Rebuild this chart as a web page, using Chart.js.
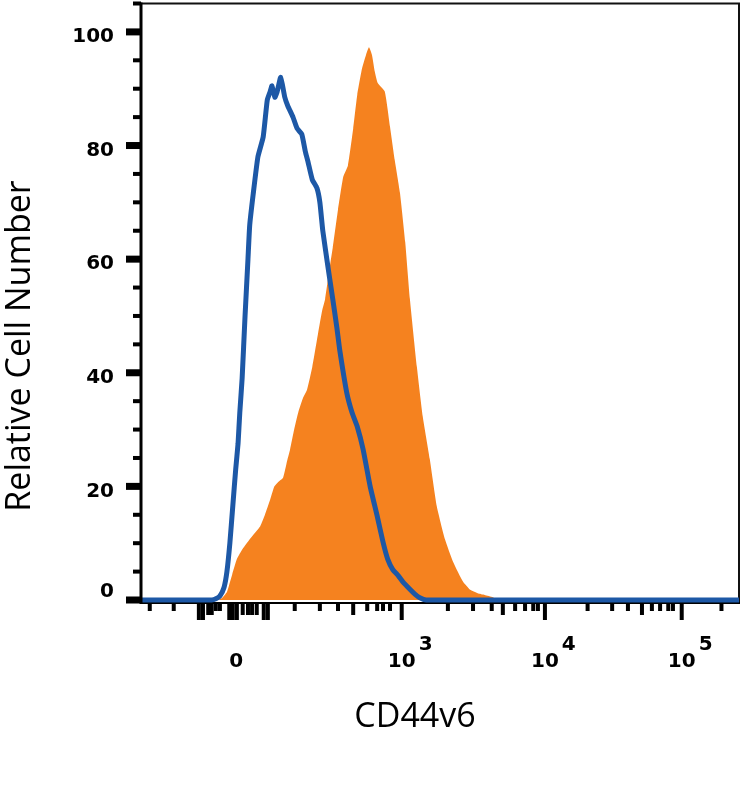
<!DOCTYPE html>
<html>
<head>
<meta charset="utf-8">
<script src="https://cdn.jsdelivr.net/npm/chart.js@4"></script>
<style>
html,body{margin:0;padding:0;background:#fff;}
canvas{display:block;}
</style>
</head>
<body>
<canvas id="c" width="743" height="788"></canvas>
<script>
// ---- data (x in display channels 0..1023 of a biexponential axis) ----
const isotypeX = [0,121,128,135,142,147,152,157,162,166,169,173,178,183,186,192,200,209,216,221,224,229,233,239,246,251,260,267,275,281,286,293,301,306,311,320,328,335,340,352,361,370,380,392,404,414,422,431,440,448,460,469,477,488,1023];
const isotypeY = [0,0,0.2,0.7,2.2,5,10,16.5,23,27.5,33,39,50,60,66,71.5,78,81.5,88,89.5,90.5,88.5,89.5,92,88.5,87,85,83,82,79,77,74,72.5,70,65,58.5,53,48,44,36.5,33,30.5,26.5,20,14.8,10.2,7.2,5.3,4.3,3.2,1.9,1.0,0.4,0,0];

const cd44X = [0,132,140,147,156,164,174,186,204,212,221,228,234,243,250,255,262,269,277,284,293,303,310,315,322,328,337,346,354,363,370,378,385,390,395,400,405,417,426,434,443,452,460,472,482,494,506,520,534,551,563,576,588,602,609,1023];
const cd44Y = [0,0,0.5,1.4,4.5,7.2,9,10.7,13,15,17.7,20,20.7,21.5,24.5,26.5,30,33,35.5,37,41,47,51,53,58,62,68.7,74.5,76.5,83,89,93.5,96,97.3,96,93,91,89.5,83.3,77.5,71.7,63,53,41,32.3,24.8,16.5,10.7,6.7,3.2,1.8,1.2,0.9,0.5,0,0];

// y ticks
const yMajorTicks = [0,20,40,60,80,100];
const yMinorTicks = [5,10,15,25,30,35,45,50,55,65,70,75,85,90,95,105];

// x ticks (channel positions)
const xSmallTicks = [15,56,128,135,263,306,337,387,404,414,426,525,568,600,640,657,671,679,764,806,833,874,888,902,910,993];
const xMediumTicks = [115,121,174,183,190,198,363,619,857];
const xBigTicks = [99,106,151,157,164,210,217,446,691,925];

// x tick labels
const xLabelPos = [163,446,691,925];
const xLabelBase = ["0","10","10","10"];
const xLabelExp = ["","3","4","5"];

const yTitle = "Relative Cell Number";
const xTitle = "CD44v6";

const toPts = (xs, ys) => xs.map((v,i)=>({x:v, y:ys[i]}));

const decor = {
  id:'decor',
  beforeDatasetsDraw(chart){
    const {ctx, chartArea:a} = chart;
    ctx.save();
    ctx.strokeStyle='#111';
    ctx.lineWidth=2;
    ctx.beginPath();
    ctx.moveTo(a.left, a.top); ctx.lineTo(a.right, a.top); ctx.lineTo(a.right, a.bottom+4);
    ctx.stroke();
    ctx.strokeStyle='#000';
    ctx.beginPath();
    ctx.moveTo(a.left, a.bottom+3); ctx.lineTo(a.right+1, a.bottom+3);
    ctx.stroke();
    ctx.restore();
  },
  afterDatasetsDraw(chart){
    const {ctx, chartArea:a, scales:{x,y}} = chart;
    ctx.save();
    // left axis
    ctx.strokeStyle='#000';
    ctx.lineWidth=3;
    ctx.beginPath(); ctx.moveTo(a.left, a.top-1); ctx.lineTo(a.left, a.bottom+4); ctx.stroke();
    // y ticks
    ctx.fillStyle='#000';
    yMajorTicks.forEach(v=>{ const py=y.getPixelForValue(v); ctx.fillRect(a.left-15, py-3.5, 15, 7); });
    yMinorTicks.forEach(v=>{ const py=y.getPixelForValue(v); ctx.fillRect(a.left-8, py-2, 8, 4); });
    // y labels
    ctx.font='bold 20px "DejaVu Sans"';
    ctx.textAlign='right'; ctx.textBaseline='middle';
    yMajorTicks.forEach(v=>{ const py=y.getPixelForValue(v); ctx.fillText(String(v), a.left-27, v===0? py-8 : py+5); });
    // x ticks
    const x0 = a.bottom+3;
    xSmallTicks.forEach(v=>{ const px=x.getPixelForValue(v); ctx.fillRect(px-2, x0, 4, 8); });
    xMediumTicks.forEach(v=>{ const px=x.getPixelForValue(v); ctx.fillRect(px-2, x0, 4, 12); });
    xBigTicks.forEach(v=>{ const px=x.getPixelForValue(v); ctx.fillRect(px-2, x0, 4, 17); });
    // x labels
    ctx.textBaseline='alphabetic';
    xLabelPos.forEach((v,i)=>{
      const px=x.getPixelForValue(v);
      ctx.font='bold 20px "DejaVu Sans"';
      ctx.textAlign='center';
      ctx.fillText(xLabelBase[i], px, 667);
      if (xLabelExp[i]) {
        const w = ctx.measureText(xLabelBase[i]).width;
        ctx.textAlign='left';
        ctx.fillText(xLabelExp[i], px + w/2 + 3, 650);
      }
    });
    // titles
    ctx.font='34px "Open Sans"';
    ctx.textAlign='center'; ctx.textBaseline='middle';
    ctx.fillText(xTitle, 415, 717);
    ctx.translate(20, 346); ctx.rotate(-Math.PI/2);
    ctx.fillText(yTitle, 0, 0);
    ctx.restore();
  }
};

new Chart(document.getElementById('c'), {
  type:'line',
  data:{
    datasets:[
      { label:'Isotype', data:toPts(isotypeX, isotypeY), borderColor:'#1d58a6', borderWidth:5, pointRadius:0, fill:false, tension:0.15, order:0, borderJoinStyle:'round', clip:8 },
      { label:'CD44v6', data:toPts(cd44X, cd44Y), borderColor:'#f5821f', borderWidth:0, backgroundColor:'#f5821f', pointRadius:0, fill:'origin', tension:0.15, order:1 }
    ]
  },
  plugins:[decor],
  options:{
    responsive:false,
    animation:false,
    layout:{ padding:{ left:141, right:4, top:3.5, bottom:188 } },
    plugins:{ legend:{display:false}, tooltip:{enabled:false} },
    scales:{
      x:{ type:'linear', min:0, max:1023, display:false },
      y:{ type:'linear', min:0, max:105, display:false }
    }
  }
});
</script>
</body>
</html>
